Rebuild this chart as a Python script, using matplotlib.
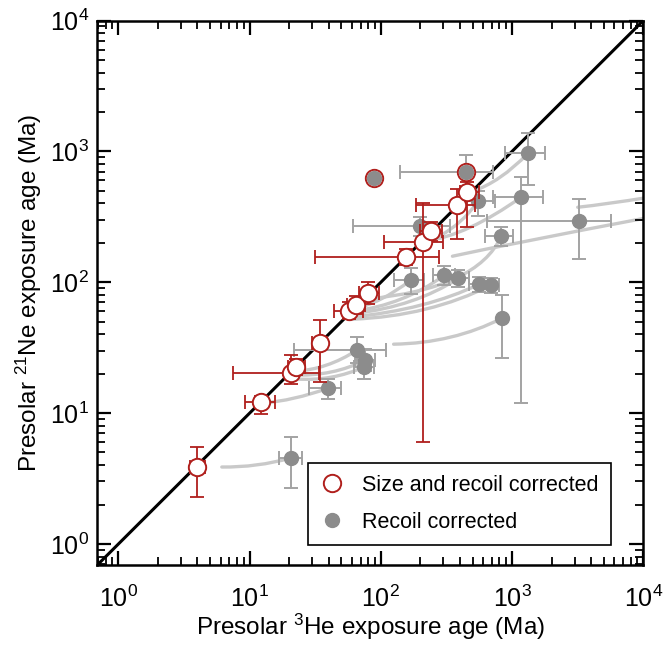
import numpy as np
import matplotlib
matplotlib.use('Agg')
import matplotlib.pyplot as plt
from matplotlib.path import Path
from matplotlib.patches import PathPatch
from matplotlib.lines import Line2D

plt.rcParams['font.family'] = ['Liberation Sans', 'DejaVu Sans']
plt.rcParams['mathtext.fontset'] = 'custom'
plt.rcParams['mathtext.rm'] = 'Liberation Sans'
plt.rcParams['mathtext.it'] = 'Liberation Sans:italic'
plt.rcParams['mathtext.bf'] = 'Liberation Sans:bold'

# ---------------- data ----------------
# Size and recoil corrected (red open circles)
red_x    = [4.0, 12.1, 20.5, 22.7, 34.2, 57.0, 64.7, 80.0, 155, 208, 240, 377, 456]
red_xlo  = [3.5, 9.2, 7.5, 19.5, 30.0, 44.0, 55.0, 68.0, 31.6, 105, 200, 184, 400]
red_xhi  = [4.6, 15.5, 34.0, 26.5, 39.0, 73.0, 76.0, 97.0, 275, 300, 290, 520, 560]
red_y    = [3.9, 12.1, 20.2, 22.5, 34.2, 60.0, 66.7, 82.0, 155, 202, 245, 387, 487]
red_ylo  = [2.3, 9.8, 16.6, 19.5, 17.2, 52.0, 57.0, 68.0, 135, 6.0, 205, 213, 263]
red_yhi  = [5.5, 13.5, 28.0, 26.0, 51.0, 70.0, 78.0, 100, 178, 401, 290, 520, 580]

# Points where both corrections coincide (red ring around grey dot)
both_x   = [88.5, 449]
both_y   = [622, 692]
both_xlo = [88.5, 139]
both_xhi = [88.5, 718]
both_ylo = [622, 520]
both_yhi = [622, 932]

# Recoil corrected (grey filled circles)
grey_x   = [1322, 1170, 3220, 826, 169, 305, 390, 562, 693, 839, 197, 552, 20.5, 39.7, 65.8, 75.7, 74.3]
grey_xlo = [885, 718, 647, 624, 125, 250, 330, 470, 600, 839, 61, 425, 16.6, 28.5, 21.9, 63, 62]
grey_xhi = [1778, 1718, 5720, 1018, 212, 370, 470, 650, 800, 839, 339, 743, 25.2, 49.8, 109, 90, 89]
grey_y   = [966, 446, 292, 224, 104, 113, 107, 96.6, 95.0, 53.1, 267, 415, 4.53, 15.5, 30.3, 25.4, 22.5]
grey_ylo = [550, 11.9, 150, 188, 81, 95, 92, 84, 83, 26.3, 225, 319, 2.67, 12.8, 24.0, 21.0, 18.2]
grey_yhi = [1372, 640, 430, 263, 128, 133, 124, 110, 108, 80, 316, 495, 6.56, 18.2, 38.0, 31.0, 27.0]

# Correction tracks (light grey curves): start, a point on the way, end
trk_x0 = [6.13, 12.5, 21.9, 21.2, 22.7, 59.3, 61.4, 64.7, 59.3, 61.4, 76.9, 125, 351, 3162, 219, 498, 285]
trk_y0 = [3.87, 11.9, 20.9, 19.5, 18.2, 62.2, 60.1, 58.0, 54.1, 52.2, 74.2, 33.6, 158, 374, 206, 495, 228]
trk_xm = [11.3, 21.9, 38.3, 41.8, 41.8, 100, 142, 169, 201, 219, 370, 339, 1368, 5525, 481, 811, 404]
trk_ym = [4.01, 13.0, 23.2, 20.6, 18.8, 74.2, 74.2, 71.6, 66.7, 62.2, 107, 38.0, 209, 401, 263, 634, 292]
trk_x1 = [20.5, 39.7, 65.8, 75.7, 74.3, 169, 305, 390, 562, 693, 826, 839, 11100, 11100, 1170, 1322, 552]
trk_y1 = [4.53, 15.5, 30.3, 25.4, 22.5, 104, 113, 107, 96.6, 95.0, 224, 53.1, 313, 446, 446, 966, 415]

lims = [0.69, 1e4]

RED = '#b01f1c'
GREY = '#8c8c8c'
GREY_ERR = '#a3a3a3'
TRACK = '#c9c9c9'

# ---------------- figure ----------------
fig = plt.figure(figsize=(6.63, 6.45), dpi=100)
ax = fig.add_axes([0.1468, 0.124, 0.8235, 0.8442])
ax.set_xscale('log')
ax.set_yscale('log')
ax.set_xlim(lims)
ax.set_ylim(lims)

# tracks as quadratic curves in log space through the mid point
for x0, y0, xm, ym, x1, y1 in zip(trk_x0, trk_y0, trk_xm, trk_ym, trk_x1, trk_y1):
    l0 = np.log10([x0, y0]); lm = np.log10([xm, ym]); l1 = np.log10([x1, y1])
    lc = 2 * lm - 0.5 * (l0 + l1)
    c = 10 ** lc
    p = Path([(x0, y0), (c[0], c[1]), (x1, y1)], [Path.MOVETO, Path.CURVE3, Path.CURVE3])
    ax.add_patch(PathPatch(p, fill=False, edgecolor=TRACK, lw=2.4, zorder=1,
                           capstyle='round'))

# 1:1 line
ax.plot(lims, lims, color='black', lw=2.2, zorder=2)

def err(v, lo, hi):
    v = np.asarray(v, float)
    return [v - np.asarray(lo, float), np.asarray(hi, float) - v]

# grey points
ax.errorbar(grey_x, grey_y, xerr=err(grey_x, grey_xlo, grey_xhi),
            yerr=err(grey_y, grey_ylo, grey_yhi), fmt='none', ecolor=GREY_ERR,
            elinewidth=1.4, capsize=5, capthick=1.4, zorder=3)
ax.plot(grey_x, grey_y, 'o', ms=10, color=GREY, mec=GREY, zorder=4)

# coincident points: error bars in grey
ax.errorbar(both_x, both_y, xerr=err(both_x, both_xlo, both_xhi),
            yerr=err(both_y, both_ylo, both_yhi), fmt='none', ecolor=GREY_ERR,
            elinewidth=1.4, capsize=5, capthick=1.4, zorder=3)

# red points
ax.errorbar(red_x, red_y, xerr=err(red_x, red_xlo, red_xhi),
            yerr=err(red_y, red_ylo, red_yhi), fmt='none', ecolor=RED,
            elinewidth=1.3, capsize=5, capthick=1.3, zorder=5)
ax.plot(red_x, red_y, 'o', ms=12.5, mfc='white', mec=RED, mew=1.4, zorder=6)

ax.plot(both_x, both_y, 'o', ms=12.5, mfc='white', mec=RED, mew=1.4, zorder=6)
ax.plot(both_x, both_y, 'o', ms=10, color=GREY, mec=GREY, zorder=7)

# axes styling
for s in ax.spines.values():
    s.set_linewidth(1.8)
ax.tick_params(which='both', direction='in', top=True, right=True)
ax.tick_params(which='major', length=10, width=1.6, labelsize=18)
ax.tick_params(which='minor', length=5.5, width=1.3)
ax.tick_params(axis='x', which='major', pad=15)
ax.tick_params(axis='y', which='major', pad=6)
ax.set_xticks([1, 10, 100, 1000, 10000])
ax.set_yticks([1, 10, 100, 1000, 10000])

ax.set_xlabel('Presolar $^{3}$He exposure age (Ma)', fontsize=17.5, labelpad=0)
ax.set_ylabel('Presolar $^{21}$Ne exposure age (Ma)', fontsize=17.5, labelpad=4)

handles = [Line2D([], [], ls='none', marker='o', ms=12.5, mfc='white', mec=RED, mew=1.4),
           Line2D([], [], ls='none', marker='o', ms=10, color=GREY)]
leg = ax.legend(handles, ['Size and recoil corrected', 'Recoil corrected'],
                loc='lower left', bbox_to_anchor=(0.385, 0.037), fontsize=15.5,
                frameon=True, fancybox=False, edgecolor='black', framealpha=1,
                borderpad=0.55, labelspacing=0.75, handletextpad=0.8,
                handlelength=1.2, borderaxespad=0)
leg.get_frame().set_linewidth(1.2)
leg.set_zorder(10)

fig.savefig('out.png', dpi=100)
